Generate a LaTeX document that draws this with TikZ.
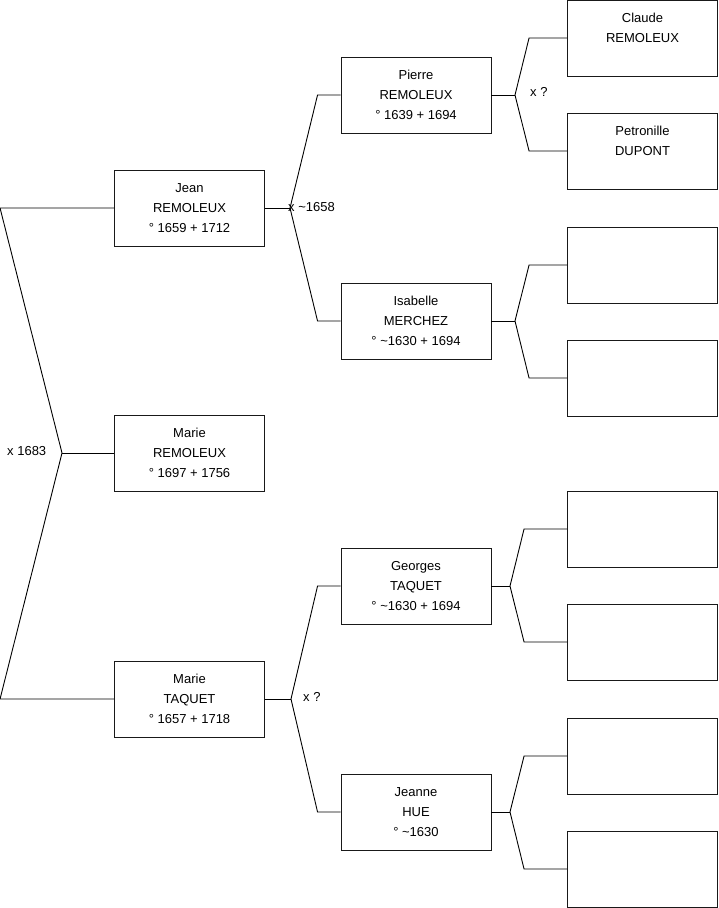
\documentclass[tikz,border=0pt]{standalone}
\usepackage{fontspec}
\setmainfont{Liberation Sans}
\usetikzlibrary{positioning,calc}

\begin{document}
\begin{tikzpicture}[
  x=1pt,y=-1pt,
  font=\fontsize{13}{20}\selectfont,
  person/.style={draw=black!90,line width=0.9pt,minimum width=150pt,minimum height=76pt,inner sep=0pt,align=center,fill=white},
  link/.style={draw=black,line width=0.9pt},
  union/.style={anchor=west,inner sep=0pt},
]
  \useasboundingbox (0,0) rectangle (719,908);

  % Generation 1: the child and her parents.
  \node[person] (jean) at (189.5,208) {Jean\\REMOLEUX\\° 1659 + 1712};
  \node[person] (marieR) at (189.5,453) {Marie\\REMOLEUX\\° 1697 + 1756};
  \node[person] (marieT) at (189.5,699) {Marie\\TAQUET\\° 1657 + 1718};

  % Generation 2: grandparents.
  \node[person] (pierre) at (416,95) {Pierre\\REMOLEUX\\° 1639 + 1694};
  \node[person] (isabelle) at (416,321) {Isabelle\\MERCHEZ\\° \textasciitilde1630 + 1694};
  \node[person] (georges) at (416,586) {Georges\\TAQUET\\° \textasciitilde1630 + 1694};
  \node[person] (jeanne) at (416,812) {Jeanne\\HUE\\° \textasciitilde1630};

  % Generation 3: great-grandparents, mostly unknown.
  \node[person] (claude) at (642.5,38) {Claude\\REMOLEUX\\~};
  \node[person] (petronille) at (642.5,151) {Petronille\\DUPONT\\~};
  \node[person] (e1) at (642.5,265) {};
  \node[person] (e2) at (642.5,378) {};
  \node[person] (e3) at (642.5,529) {};
  \node[person] (e4) at (642.5,642) {};
  \node[person] (e5) at (642.5,756) {};
  \node[person] (e6) at (642.5,869) {};

  % Fork points of the couples.
  \coordinate (mfork) at (62,453);
  \coordinate (jfork) at (290,208);
  \coordinate (tfork) at (291,699);
  \coordinate (pfork) at (515,95);
  \coordinate (ifork) at (515,321);
  \coordinate (gfork) at (510,586);
  \coordinate (hfork) at (510,812);

  \draw[link] (jean.west) -- ++(-114,0) -- (mfork) -- ($(marieT.west)+(-114,0)$) -- (marieT.west);
  \draw[link] (mfork) -- (marieR.west);

  \draw[link] (jean.east) -- (jfork);
  \draw[link] (pierre.west) -- ++(-23,0) -- (jfork) -- ($(isabelle.west)+(-23,0)$) -- (isabelle.west);
  \draw[link] (marieT.east) -- (tfork);
  \draw[link] (georges.west) -- ++(-23,0) -- (tfork) -- ($(jeanne.west)+(-23,0)$) -- (jeanne.west);

  \draw[link] (pierre.east) -- (pfork);
  \draw[link] (claude.west) -- ++(-38,0) -- (pfork) -- ($(petronille.west)+(-38,0)$) -- (petronille.west);
  \draw[link] (isabelle.east) -- (ifork);
  \draw[link] (e1.west) -- ++(-38,0) -- (ifork) -- ($(e2.west)+(-38,0)$) -- (e2.west);
  \draw[link] (georges.east) -- (gfork);
  \draw[link] (e3.west) -- ++(-43,0) -- (gfork) -- ($(e4.west)+(-43,0)$) -- (e4.west);
  \draw[link] (jeanne.east) -- (hfork);
  \draw[link] (e5.west) -- ++(-43,0) -- (hfork) -- ($(e6.west)+(-43,0)$) -- (e6.west);

  % Marriage dates.
  \node[union] (m1) at (7,451) {x 1683};
  \node[union] (m2) at (288,207) {x \textasciitilde1658};
  \node[union] (m3) at (303,697) {x ?};
  \node[union] (m4) at (530,92) {x ?};

\end{tikzpicture}
\end{document}
